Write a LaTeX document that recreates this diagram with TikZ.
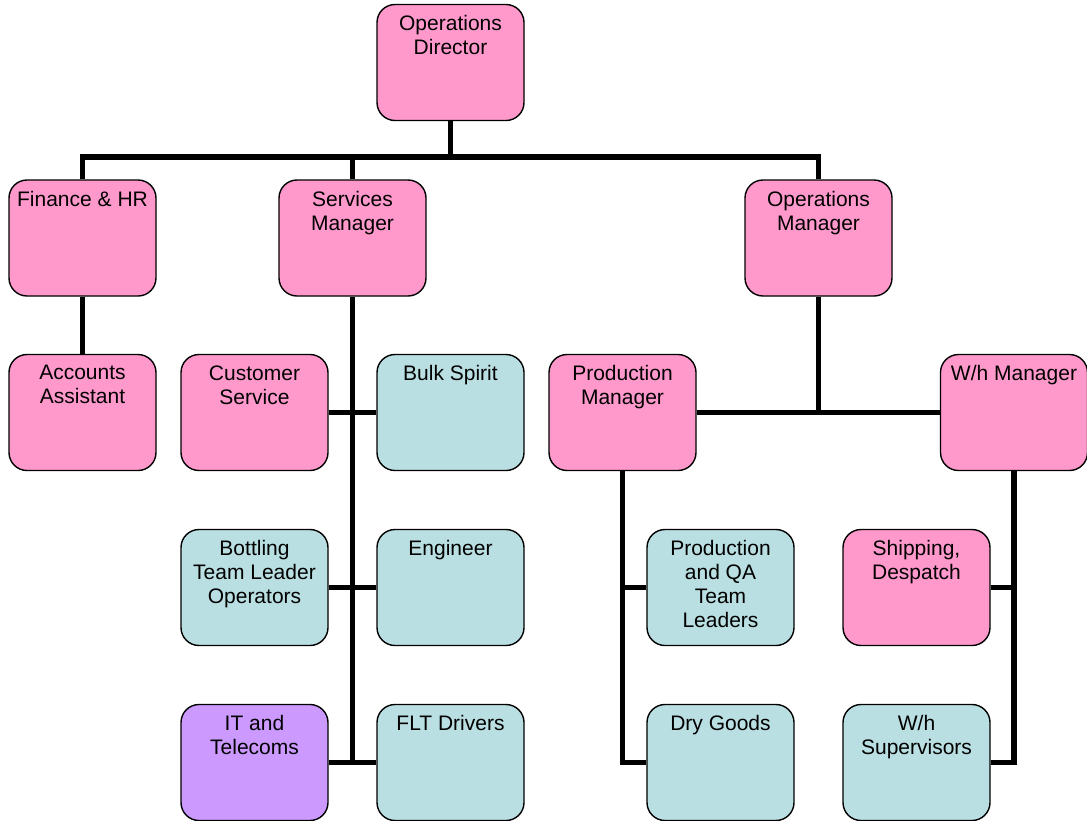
\documentclass[tikz,border=0pt]{standalone}
\usepackage{fontspec}
\setmainfont{Liberation Sans}
\pgfdeclarelayer{background}
\pgfsetlayers{background,main}
\definecolor{rolepink}{HTML}{FF99CC}
\definecolor{roleteal}{HTML}{BADFE2}
\definecolor{rolepurple}{HTML}{CC99FF}
\begin{document}
\begin{tikzpicture}[x=1pt,y=-1pt,
  box/.style={draw=black, line width=1.4pt, rounded corners=18pt,
    minimum width=147pt, minimum height=116pt, inner sep=0pt},
  pinkbox/.style={box, fill=rolepink},
  tealbox/.style={box, fill=roleteal},
  purplebox/.style={box, fill=rolepurple},
  lbl/.style={anchor=north, inner sep=0pt, align=center, yshift=-11.5pt,
    font=\fontsize{21}{24}\selectfont},
  conn/.style={line width=5.5pt, line join=miter}]
\useasboundingbox (0,0) rectangle (1087,820);

% top level
\node[pinkbox, label={[lbl]north:Operations\\Director}] (dir) at (450.5,62.5) {};

% second level
\node[pinkbox, label={[lbl]north:Finance \& HR}] (fin) at (82.5,238) {};
\node[pinkbox, label={[lbl]north:Services\\Manager}] (svc) at (352.5,238) {};
\node[pinkbox, label={[lbl]north:Operations\\Manager}] (ops) at (818.5,238) {};

% third level
\node[pinkbox, label={[lbl]north:Accounts\\Assistant}] (acc) at (82.5,412.5) {};
\node[pinkbox, label={[lbl]north:Customer\\Service}] (cs) at (254.5,412.5) {};
\node[tealbox, label={[lbl]north:Bulk Spirit}] (bulk) at (450.5,412.5) {};
\node[pinkbox, label={[lbl]north:Production\\Manager}] (pm) at (622.5,412.5) {};
\node[pinkbox, label={[lbl]north:W/h Manager}] (wh) at (1014,412.5) {};

% fourth level
\node[tealbox, label={[lbl]north:Bottling\\Team Leader\\Operators}] (bot) at (254.5,587.5) {};
\node[tealbox, label={[lbl]north:Engineer}] (eng) at (450.5,587.5) {};
\node[tealbox, label={[lbl]north:Production\\and QA\\Team\\Leaders}] (pqa) at (720.5,587.5) {};
\node[pinkbox, label={[lbl]north:{Shipping,\\Despatch}}] (ship) at (916.5,587.5) {};

% fifth level
\node[purplebox, label={[lbl]north:IT and\\Telecoms}] (itt) at (254.5,762.5) {};
\node[tealbox, label={[lbl]north:FLT Drivers}] (flt) at (450.5,762.5) {};
\node[tealbox, label={[lbl]north:Dry Goods}] (dry) at (720.5,762.5) {};
\node[tealbox, label={[lbl]north:W/h\\Supervisors}] (whs) at (916.5,762.5) {};

\coordinate (bus) at (818.5,157);

\begin{pgfonlayer}{background}
  % director bus
  \draw[conn] (dir.south) -- (dir.south |- bus);
  \draw[conn] (fin.north) |- (bus) -- (ops.north);
  \draw[conn] (svc.north) -- (svc.north |- bus);
  \draw[conn] (fin.south) -- (acc.north);
  % services branch
  \draw[conn] (svc.south) -- ([yshift=2.75pt]svc.south |- itt.east);
  \draw[conn] (cs.east) -- (bulk.west);
  \draw[conn] (bot.east) -- (eng.west);
  \draw[conn] (itt.east) -- (flt.west);
  % operations branch
  \draw[conn] (ops.south) -- (ops.south |- pm.east);
  \draw[conn] (pm.east) -- (wh.west);
  \draw[conn] (pm.south) |- (dry.west);
  \draw[conn] (pm.south |- pqa.west) -- (pqa.west);
  \draw[conn] (wh.south) |- (whs.east);
  \draw[conn] (ship.east) -- (ship.east -| wh.south);
\end{pgfonlayer}
\end{tikzpicture}
\end{document}
